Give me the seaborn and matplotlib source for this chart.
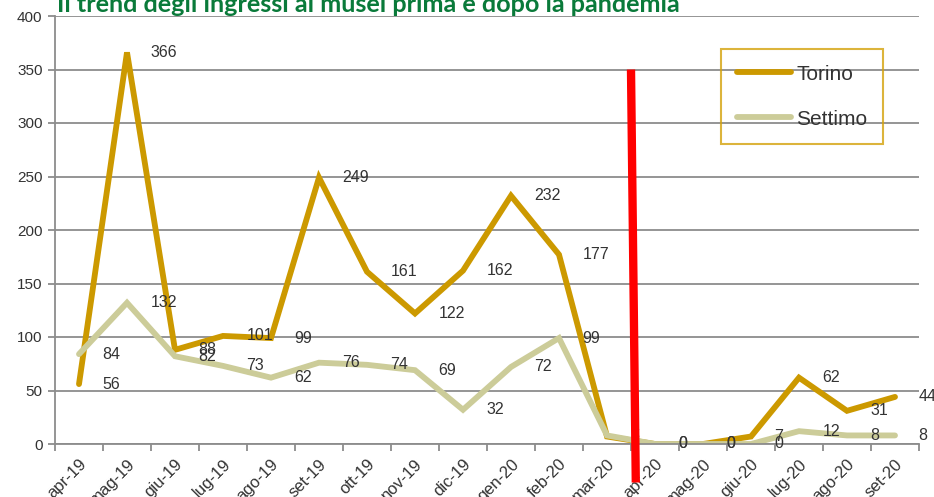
import matplotlib
matplotlib.use("Agg")
import matplotlib.pyplot as plt
import seaborn as sns
import pandas as pd

months = ["apr-19", "mag-19", "giu-19", "lug-19", "ago-19", "set-19", "ott-19", "nov-19",
          "dic-19", "gen-20", "feb-20", "mar-20", "apr-20", "mag-20", "giu-20", "lug-20",
          "ago-20", "set-20"]
torino = [56, 366, 88, 101, 99, 249, 161, 122, 162, 232, 177, 7, 0, 0, 7, 62, 31, 44]
settimo = [84, 132, 82, 73, 62, 76, 74, 69, 32, 72, 99, 8, 0, 0, 0, 12, 8, 8]
series_names = ["Torino", "Settimo"]
title = "Il trend degli ingressi ai musei prima e dopo la pandemia"

df = pd.DataFrame({
    "mese": months * 2,
    "ingressi": torino + settimo,
    "serie": [series_names[0]] * len(months) + [series_names[1]] * len(months),
})

sns.set_theme(style="white")
plt.rcParams["font.family"] = ["Liberation Sans", "DejaVu Sans"]

fig = plt.figure(figsize=(9.34, 4.97), dpi=100)
ax = fig.add_axes([55 / 934, 53 / 497, 864 / 934, 428 / 497])

palette = {"Torino": "#CC9900", "Settimo": "#CCCC99"}
sns.lineplot(data=df, x="mese", y="ingressi", hue="serie", hue_order=["Torino", "Settimo"],
             palette=palette, sort=False, linewidth=4.2, ax=ax, legend=True)
for ln in ax.get_lines():
    ln.set_solid_joinstyle("miter")

ax.set_xlim(-0.5, len(months) - 0.5)
ax.set_ylim(0, 400)
ax.set_yticks(range(0, 401, 50))
ax.set_xlabel("")
ax.set_ylabel("")

gcol = "#8C8C8C"
ax.grid(axis="y", color=gcol, linewidth=1.3)
ax.set_axisbelow(True)
for s in ["top", "right"]:
    ax.spines[s].set_visible(False)
for s in ["left", "bottom"]:
    ax.spines[s].set_color(gcol)
    ax.spines[s].set_linewidth(1.3)

ax.set_xticks(range(len(months)))
ax.set_xticklabels(months, rotation=45, ha="right", rotation_mode="anchor")
ax.set_xticks([i - 0.5 for i in range(len(months) + 1)], minor=True)
ax.tick_params(axis="x", which="major", length=0, pad=9, labelsize=12, labelcolor="#333333")
ax.tick_params(axis="x", which="minor", length=5, width=1.3, color=gcol, direction="out", bottom=True)
ax.tick_params(axis="y", length=5, width=1.3, color=gcol, left=True, labelsize=11,
               labelcolor="#333333", pad=4)

# data labels
for vals in (torino, settimo):
    for i, v in enumerate(vals):
        ax.annotate(str(v), (months[i], v), xytext=(17, 0), textcoords="offset points",
                    ha="left", va="center", fontsize=11.5, color="#333333",
                    annotation_clip=False)

# red marker line (pandemic)
ax.plot([11.5, 11.6], [350, -36], color="#FF0000", linewidth=6, clip_on=False,
        solid_capstyle="butt", zorder=10)

handles, labels = ax.get_legend_handles_labels()
leg = ax.legend(handles, labels, loc="upper left", bbox_to_anchor=(0.771, 0.923),
                borderaxespad=0, frameon=True, fancybox=False, fontsize=15,
                handlelength=2.6, handletextpad=0.25, labelspacing=1.25, borderpad=0.75)
leg.get_frame().set_edgecolor("#D4A20A")
leg.get_frame().set_linewidth(1.5)
leg.get_frame().set_facecolor("none")
for t in leg.get_texts():
    t.set_color("#333333")
for h in leg.get_lines():
    h.set_linewidth(4.2)
    h.set_solid_capstyle("round")

ttl = fig.text(57 / 934, 1 - 12 / 497, title, ha="left", va="baseline", fontsize=17,
               fontweight="bold", color="#0A7A3A", family=["Lato", "DejaVu Sans"])
fig.canvas.draw()
w = ttl.get_window_extent().width
ttl.set_fontsize(17 * 626 / w)

fig.savefig("out.png", dpi=100)
